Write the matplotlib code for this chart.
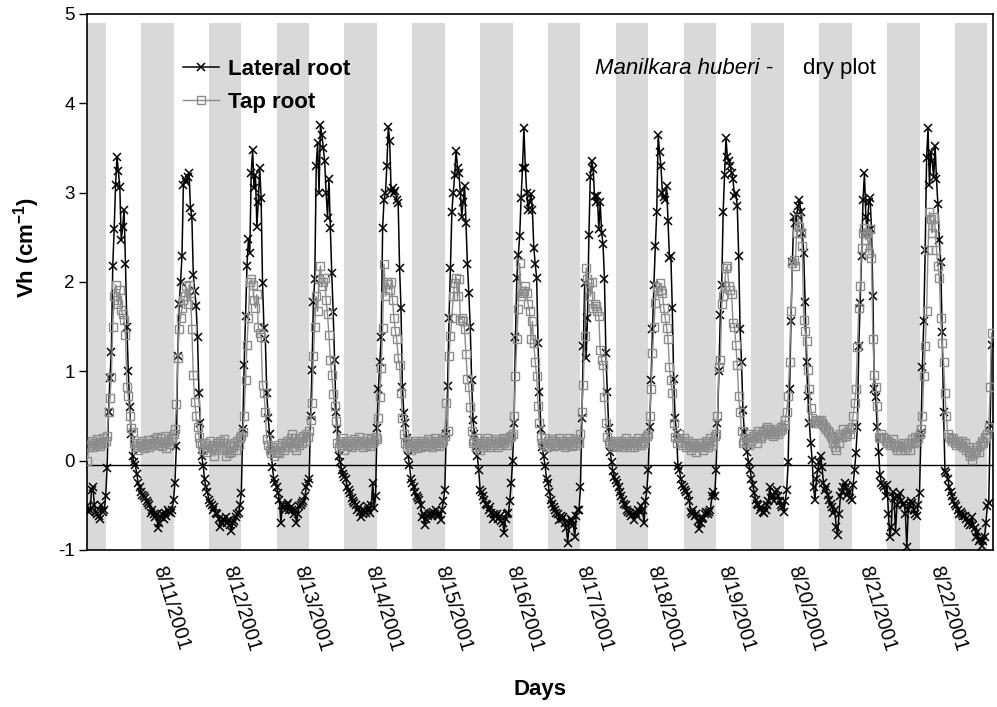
import numpy as np
import pandas as pd
import matplotlib
matplotlib.use("Agg")
import matplotlib.pyplot as plt

plt.rcParams['font.family'] = ['Liberation Sans', 'DejaVu Sans']
plt.rcParams['axes.unicode_minus'] = False
plt.rcParams['mathtext.fontset'] = 'custom'
plt.rcParams['mathtext.rm'] = 'Liberation Sans'
plt.rcParams['mathtext.bf'] = 'Liberation Sans:bold'

# Half-hourly heat pulse readings (Vh, cm-1); first reading 8/9/2001 23:00
start_time = "2001-08-09 23:00"

lateral_root = [
    -0.51, -0.57,
    # 8/10
    -0.55, -0.33, -0.3, -0.5, -0.57, -0.6, -0.62, -0.65, -0.5, -0.57, -0.55, -0.4,
    -0.08, 0.54, 0.93, 1.22, 2.18, 2.59, 3.09, 3.4, 3.24, 3.06, 2.47, 2.61, 2.81, 2.2, 1.5, 1.0, 0.6, 0.3, 0.05, -0.02,
    -0.05, -0.15, -0.25, -0.3, -0.35, -0.38, -0.4, -0.42, -0.45, -0.47, -0.5, -0.59, -0.55, -0.6, -0.63, -0.6,
    # 8/11
    -0.75, -0.7, -0.63, -0.6, -0.65, -0.59, -0.62, -0.55, -0.58, -0.59, -0.55, -0.44,
    -0.25, 0.16, 1.17, 1.75, 2.0, 2.29, 3.09, 3.15, 3.12, 3.18, 3.22, 2.83, 2.73, 2.08, 1.9, 1.73, 1.38, 0.76, 0.42,
    0.05, -0.06, -0.21, -0.3, -0.35, -0.44, -0.47, -0.5, -0.55, -0.52, -0.59, -0.6, -0.65, -0.74, -0.7, -0.65, -0.68,
    # 8/12
    -0.63, -0.7, -0.66, -0.72, -0.79, -0.7, -0.68, -0.63, -0.6, -0.59, -0.5, -0.36,
    0.35, 1.07, 1.62, 2.18, 2.48, 2.33, 3.22, 3.48, 3.05, 3.2, 2.62, 2.9, 3.28, 2.94, 1.99, 1.49, 1.36, 0.76, 0.48, 0.3, 0.12,
    -0.07, -0.21, -0.25, -0.3, -0.36, -0.44, -0.7, -0.5, -0.51, -0.55, -0.5, -0.47, -0.55, -0.52, -0.55,
    # 8/13
    -0.6, -0.55, -0.7, -0.6, -0.51, -0.5, -0.47, -0.45, -0.4, -0.3, -0.25, -0.21,
    0.5, 1.02, 1.78, 2.03, 3.3, 3.56, 3.0, 3.76, 3.65, 3.5, 3.35, 3.0, 2.72, 3.15, 2.6, 2.1, 1.66, 1.13, 0.54, 0.35, 0.05,
    -0.02, -0.1, -0.15, -0.18, -0.21, -0.3, -0.33, -0.36, -0.42, -0.45, -0.47, -0.5, -0.55, -0.52, -0.58,
    # 8/14
    -0.63, -0.6, -0.55, -0.59, -0.51, -0.55, -0.59, -0.5, -0.25, -0.53, -0.4,
    0.37, 0.8, 1.1, 1.38, 2.6, 2.92, 3.0, 3.3, 3.74, 3.58, 3.02, 3.05, 3.0, 3.02, 2.92, 2.88, 2.16, 1.71, 0.83, 0.53, 0.42, 0.25, 0.05, -0.05, -0.2,
    -0.25, -0.3, -0.35, -0.4, -0.42, -0.44, -0.5, -0.63, -0.6, -0.72, -0.65, -0.62,
    # 8/15
    -0.6, -0.59, -0.62, -0.58, -0.6, -0.55, -0.62, -0.6, -0.66, -0.55, -0.45,
    -0.33, 0.3, 0.84, 1.6, 2.16, 2.78, 3.0, 3.2, 3.47, 3.28, 3.22, 3.0, 2.73, 2.9, 3.07, 2.66, 2.2, 1.88, 1.5, 0.9, 0.45, 0.3, 0.15, 0.05, -0.1,
    -0.33, -0.35, -0.4, -0.44, -0.48, -0.5, -0.55, -0.52, -0.59, -0.65, -0.6, -0.62,
    # 8/16
    -0.6, -0.65, -0.62, -0.68, -0.7, -0.81, -0.65, -0.6, -0.59, -0.45, -0.25, 0.0,
    0.42, 1.38, 2.05, 2.3, 2.51, 2.94, 3.28, 3.72, 3.28, 3.0, 2.81, 2.9, 2.98, 2.81, 2.38, 2.2, 2.05, 1.32, 0.77, 0.35, 0.15, 0.05,
    -0.06, -0.2, -0.25, -0.35, -0.44, -0.48, -0.52, -0.55, -0.59, -0.6, -0.66, -0.62, -0.65, -0.63,
    # 8/17
    -0.7, -0.75, -0.92, -0.7, -0.65, -0.68, -0.72, -0.85, -0.62, -0.55, -0.55, -0.3,
    0.48, 1.28, 1.99, 1.15, 1.6, 2.53, 3.18, 3.35, 3.26, 2.96, 2.9, 2.96, 2.59, 2.89, 2.55, 2.42, 2.03, 1.2, 0.77, 0.37, 0.1,
    -0.01, -0.12, -0.18, -0.22, -0.25, -0.3, -0.35, -0.4, -0.44, -0.48, -0.5, -0.55, -0.58, -0.59, -0.62,
    # 8/18
    -0.6, -0.66, -0.59, -0.62, -0.55, -0.58, -0.51, -0.55, -0.7, -0.45, -0.33, -0.1,
    0.38, 0.9, 1.47, 1.97, 2.4, 2.78, 3.65, 3.45, 3.3, 3.0, 2.95, 2.92, 3.07, 2.68, 2.27, 2.29, 1.71, 0.91, 0.48, 0.31,
    -0.06, -0.1, -0.2, -0.27, -0.3, -0.33, -0.35, -0.38, -0.45, -0.57, -0.6, -0.55, -0.62, -0.6, -0.68, -0.77,
    # 8/19
    -0.7, -0.65, -0.64, -0.6, -0.58, -0.6, -0.57, -0.55, -0.4, -0.35, -0.4, -0.1,
    0.42, 1.0, 1.63, 1.97, 2.78, 3.2, 3.61, 3.4, 3.35, 3.3, 3.22, 3.15, 2.96, 3.0, 2.85, 2.29, 1.47, 1.1, 0.57, 0.32, 0.21, 0.1, -0.02, -0.1,
    -0.2, -0.27, -0.36, -0.44, -0.48, -0.5, -0.55, -0.52, -0.58, -0.59, -0.55, -0.5,
    # 8/20
    -0.45, -0.29, -0.42, -0.38, -0.45, -0.35, -0.33, -0.4, -0.45, -0.5, -0.52, -0.57, -0.45, -0.33, -0.02,
    0.8, 1.56, 2.22, 2.73, 2.66, 2.75, 2.85, 2.92, 2.78, 2.55, 2.33, 1.78, 1.1, 0.72, 0.42, 0.2, 0.01,
    -0.3, -0.44, -0.21, -0.1, -0.02, 0.05, -0.07, -0.25, -0.33, -0.3, -0.38, -0.44, -0.48, -0.52, -0.59, -0.55,
    # 8/21
    -0.74, -0.83, -0.6, -0.4, -0.35, -0.3, -0.25, -0.3, -0.38, -0.35, -0.42, -0.44,
    -0.27, -0.1, 0.09, 0.38, 1.28, 1.77, 2.29, 2.92, 3.22, 2.73, 2.55, 2.89, 2.94, 2.59, 1.84, 0.8, 0.71, 0.38, 0.1, -0.16,
    -0.25, -0.27, -0.3, -0.4, -0.27, -0.6, -0.85, -0.74, -0.35, -0.42, -0.8, -0.5, -0.4, -0.36, -0.45, -0.5,
    # 8/22
    -0.47, -0.6, -0.97, -0.55, -0.5, -0.45, -0.47, -0.55, -0.6, -0.62, -0.5, -0.36,
    0.31, 1.05, 1.56, 2.36, 3.39, 3.72, 3.09, 3.45, 3.35, 3.17, 3.52, 3.15, 2.87, 2.47, 2.22, 1.44, 0.55,
    -0.12, -0.14, -0.2, -0.29, -0.35, -0.4, -0.45, -0.48, -0.51, -0.55, -0.6, -0.58, -0.6, -0.62, -0.62, -0.65, -0.7, -0.68, -0.72,
    # 8/23
    -0.63, -0.72, -0.75, -0.85, -0.8, -0.9, -0.88, -0.96, -0.9, -0.85, -0.7, -0.51, -0.47, 0.4, 1.3,
]

tap_root = [
    0.0, 0.15,
    # 8/10
    0.18, 0.22, 0.15, 0.2, 0.17, 0.24, 0.19, 0.16, 0.21, 0.25, 0.2, 0.22,
    0.28, 0.54, 0.7, 0.94, 1.5, 1.84, 1.97, 1.8, 1.75, 1.91, 1.69, 1.64, 1.58, 1.41, 0.83, 0.72, 0.5, 0.37, 0.32, 0.2,
    0.15, 0.18, 0.12, 0.2, 0.16, 0.22, 0.14, 0.19, 0.17, 0.23, 0.15, 0.2, 0.18, 0.24, 0.2, 0.26,
    # 8/11
    0.22, 0.18, 0.25, 0.16, 0.2, 0.28, 0.14, 0.22, 0.19, 0.25, 0.24, 0.3,
    0.35, 0.63, 1.15, 1.47, 1.6, 1.71, 1.8, 1.84, 1.95, 1.75, 1.97, 1.88, 1.47, 0.96, 0.66, 0.5, 0.38, 0.27, 0.2, 0.18,
    0.12, 0.2, 0.15, 0.1, 0.18, 0.22, 0.14, 0.16, 0.05, 0.12, 0.2, 0.18, 0.22, 0.15, 0.2, 0.24,
    # 8/12
    0.05, 0.12, 0.08, 0.18, 0.1, 0.15, 0.2, 0.12, 0.22, 0.18, 0.25, 0.28,
    0.32, 0.5, 0.9, 1.3, 1.6, 2.0, 2.03, 1.97, 1.8, 1.71, 1.86, 1.5, 1.43, 1.38, 0.85, 0.76, 0.54, 0.24, 0.18, 0.12,
    0.08, 0.15, 0.05, 0.12, 0.1, 0.18, 0.08, 0.15, 0.2, 0.12, 0.18, 0.22, 0.15, 0.2, 0.25, 0.3,
    # 8/13
    0.15, 0.2, 0.12, 0.22, 0.18, 0.25, 0.2, 0.28, 0.22, 0.3, 0.27, 0.33,
    0.45, 0.65, 1.17, 1.5, 1.84, 1.67, 2.03, 2.18, 1.95, 2.0, 2.05, 1.8, 1.64, 1.41, 1.13, 0.96, 0.75, 0.61, 0.44, 0.2,
    0.15, 0.22, 0.18, 0.25, 0.12, 0.2, 0.16, 0.22, 0.18, 0.15, 0.2, 0.24, 0.18, 0.22, 0.26, 0.2,
    # 8/14
    0.2, 0.15, 0.22, 0.18, 0.25, 0.2, 0.16, 0.24, 0.2, 0.22, 0.26, 0.24,
    0.48, 0.71, 1.04, 1.49, 2.2, 1.84, 2.0, 1.98, 1.91, 2.0, 1.8, 1.6, 1.45, 1.36, 1.15, 1.07, 0.76, 0.48, 0.3, 0.2,
    0.15, 0.22, 0.18, 0.12, 0.2, 0.16, 0.22, 0.14, 0.18, 0.2, 0.15, 0.22, 0.18, 0.2, 0.16, 0.24,
    # 8/15
    0.18, 0.22, 0.15, 0.2, 0.25, 0.18, 0.22, 0.16, 0.2, 0.24, 0.22, 0.28,
    0.65, 0.33, 1.17, 1.4, 1.6, 1.84, 1.99, 2.05, 1.84, 2.03, 1.58, 1.6, 1.56, 1.47, 1.19, 0.91, 0.83, 0.6, 0.33, 0.2,
    0.22, 0.15, 0.25, 0.18, 0.12, 0.2, 0.15, 0.22, 0.18, 0.25, 0.2, 0.15, 0.22, 0.18, 0.2, 0.24,
    # 8/16
    0.2, 0.15, 0.22, 0.18, 0.25, 0.2, 0.24, 0.18, 0.22, 0.26, 0.28, 0.3,
    0.5, 0.95, 1.36, 1.7, 2.21, 1.84, 1.88, 1.9, 1.95, 1.88, 1.75, 1.67, 1.36, 1.56, 1.32, 1.1, 0.95, 0.61, 0.42, 0.26,
    0.2, 0.18, 0.25, 0.15, 0.22, 0.18, 0.2, 0.24, 0.16, 0.22, 0.2, 0.18, 0.25, 0.2, 0.22, 0.18,
    # 8/17
    0.15, 0.2, 0.18, 0.25, 0.22, 0.16, 0.2, 0.24, 0.18, 0.22, 0.2, 0.3,
    0.55, 0.85, 1.4, 2.16, 2.03, 1.99, 1.84, 2.0, 1.71, 1.75, 1.73, 1.67, 1.62, 1.24, 1.13, 1.07, 0.71, 0.42, 0.27, 0.2,
    0.22, 0.18, 0.15, 0.2, 0.22, 0.16, 0.2, 0.18, 0.22, 0.15, 0.2, 0.25, 0.18, 0.2, 0.15, 0.22,
    # 8/18
    0.2, 0.15, 0.22, 0.18, 0.25, 0.2, 0.18, 0.22, 0.2, 0.25, 0.28, 0.3,
    0.5, 0.8, 1.21, 1.5, 1.77, 1.94, 1.9, 1.99, 1.91, 1.88, 1.71, 1.6, 1.49, 1.36, 1.05, 0.9, 0.76, 0.42, 0.26, 0.2,
    0.25, 0.3, 0.22, 0.18, 0.25, 0.2, 0.15, 0.22, 0.18, 0.12, 0.2, 0.15, 0.18, 0.1, 0.15, 0.2,
    # 8/19
    0.15, 0.2, 0.12, 0.18, 0.22, 0.15, 0.2, 0.25, 0.18, 0.22, 0.28, 0.3,
    0.5, 1.05, 1.13, 1.75, 1.84, 1.95, 2.16, 2.18, 1.95, 1.91, 1.86, 1.54, 1.5, 1.3, 1.07, 0.72, 0.55, 0.33, 0.2, 0.22,
    0.25, 0.2, 0.18, 0.3, 0.22, 0.28, 0.25, 0.3, 0.2, 0.33, 0.28, 0.25, 0.32, 0.3, 0.35, 0.38,
    # 8/20
    0.35, 0.3, 0.33, 0.28, 0.32, 0.3, 0.35, 0.3, 0.33, 0.38, 0.35, 0.4,
    0.45, 0.55, 0.72, 1.1, 1.67, 2.21, 2.25, 2.18, 2.55, 2.72, 2.62, 2.55, 2.4, 1.58, 1.45, 1.34, 1.02, 0.8, 0.59, 0.48,
    0.42, 0.44, 0.45, 0.42, 0.44, 0.45, 0.42, 0.4, 0.38, 0.35, 0.33, 0.31, 0.28, 0.25, 0.2, 0.15,
    # 8/21
    0.12, 0.27, 0.2, 0.3, 0.27, 0.35, 0.3, 0.28, 0.32, 0.35, 0.3, 0.38,
    0.5, 0.65, 0.8, 1.27, 1.71, 1.95, 2.38, 2.55, 2.6, 2.47, 2.55, 2.33, 2.59, 2.27, 1.36, 0.96, 0.83, 0.61, 0.27, 0.25,
    0.3, 0.27, 0.25, 0.22, 0.2, 0.22, 0.18, 0.2, 0.24, 0.18, 0.15, 0.12, 0.18, 0.12, 0.15, 0.2,
    # 8/22
    0.18, 0.12, 0.15, 0.2, 0.12, 0.2, 0.24, 0.2, 0.27, 0.22, 0.25, 0.3,
    0.35, 0.5, 0.95, 1.28, 1.67, 2.36, 2.78, 2.7, 2.55, 2.73, 2.62, 2.36, 2.18, 2.05, 1.6, 1.32, 1.1, 0.76, 0.5, 0.3,
    0.27, 0.24, 0.22, 0.25, 0.2, 0.18, 0.22, 0.2, 0.18, 0.22, 0.15, 0.2, 0.12, 0.15, 0.1, 0.05,
    # 8/23
    0.01, 0.07, 0.1, 0.12, 0.15, 0.1, 0.18, 0.22, 0.2, 0.27, 0.25, 0.3, 0.38, 0.82, 1.43,
]

assert len(lateral_root) == len(tap_root), (len(lateral_root), len(tap_root))

times = pd.date_range(start_time, periods=len(lateral_root), freq="30min")
idx = np.arange(len(times))          # Excel-style category axis: one slot per reading
half_hour = pd.Timedelta(minutes=30)

fig = plt.figure(figsize=(9.97, 7.07), dpi=100)
ax = fig.add_axes([0.0873, 0.2221, 0.9087, 0.7581])

# night shading, 18:00 to 05:30
for day in pd.date_range("2001-08-09", "2001-08-22", freq="D"):
    x0 = (day + pd.Timedelta(hours=18) - times[0]) / half_hour
    x1 = (day + pd.Timedelta(hours=29, minutes=30) - times[0]) / half_hour
    ax.axvspan(x0, x1, ymin=0, ymax=(4.9 + 1) / 6, color="#d9d9d9", lw=0, zorder=0)

ax.axhline(-0.05, color="black", lw=1, zorder=1)

ax.plot(idx, lateral_root, color="black", lw=1.1, marker="x", ms=5.5, mew=1.1,
        label="Lateral root", zorder=3)
ax.plot(idx, tap_root, color="#8c8c8c", lw=1, marker="s", ms=5.2, mew=1,
        mfc="none", label="Tap root", zorder=4)

ax.set_xlim(-0.2, 641)
ax.set_ylim(-1, 5)
ax.set_yticks(range(-1, 6))
ax.tick_params(axis="y", direction="out", length=6, width=1, labelsize=13.5, pad=3)

tick_pos = idx[50::50]
tick_labels = [f"{t.month}/{t.day}/{t.year}" for t in times[tick_pos]]
ax.set_xticks(tick_pos)
ax.set_xticklabels(tick_labels, rotation=-73, ha="left", va="center",
                   rotation_mode="anchor", fontsize=14.3)
ax.tick_params(axis="x", length=0, pad=12)

for s in ax.spines.values():
    s.set_linewidth(1.2)
    s.set_color("black")

leg = ax.legend(loc="upper left", bbox_to_anchor=(0.106, 0.916), frameon=False,
                prop={"weight": "bold", "size": 16}, handlelength=1.6,
                handletextpad=0.4, labelspacing=0.55, borderaxespad=0, borderpad=0)

ax.text(0.5607, 0.899, "Manilkara huberi -", transform=ax.transAxes, style="italic",
        fontsize=16, ha="left", va="center")
ax.text(0.790, 0.899, "dry plot", transform=ax.transAxes, fontsize=16,
        ha="left", va="center")

fig.text(27 / 997, 1 - 248 / 707, r"Vh (cm$^{\mathregular{-1}}$)", rotation=90,
         ha="center", va="center", fontsize=16, fontweight="bold")
fig.text(540 / 997, 1 - 690 / 707, "Days", ha="center", va="center",
         fontsize=16, fontweight="bold")

fig.savefig("out.png", dpi=100)
